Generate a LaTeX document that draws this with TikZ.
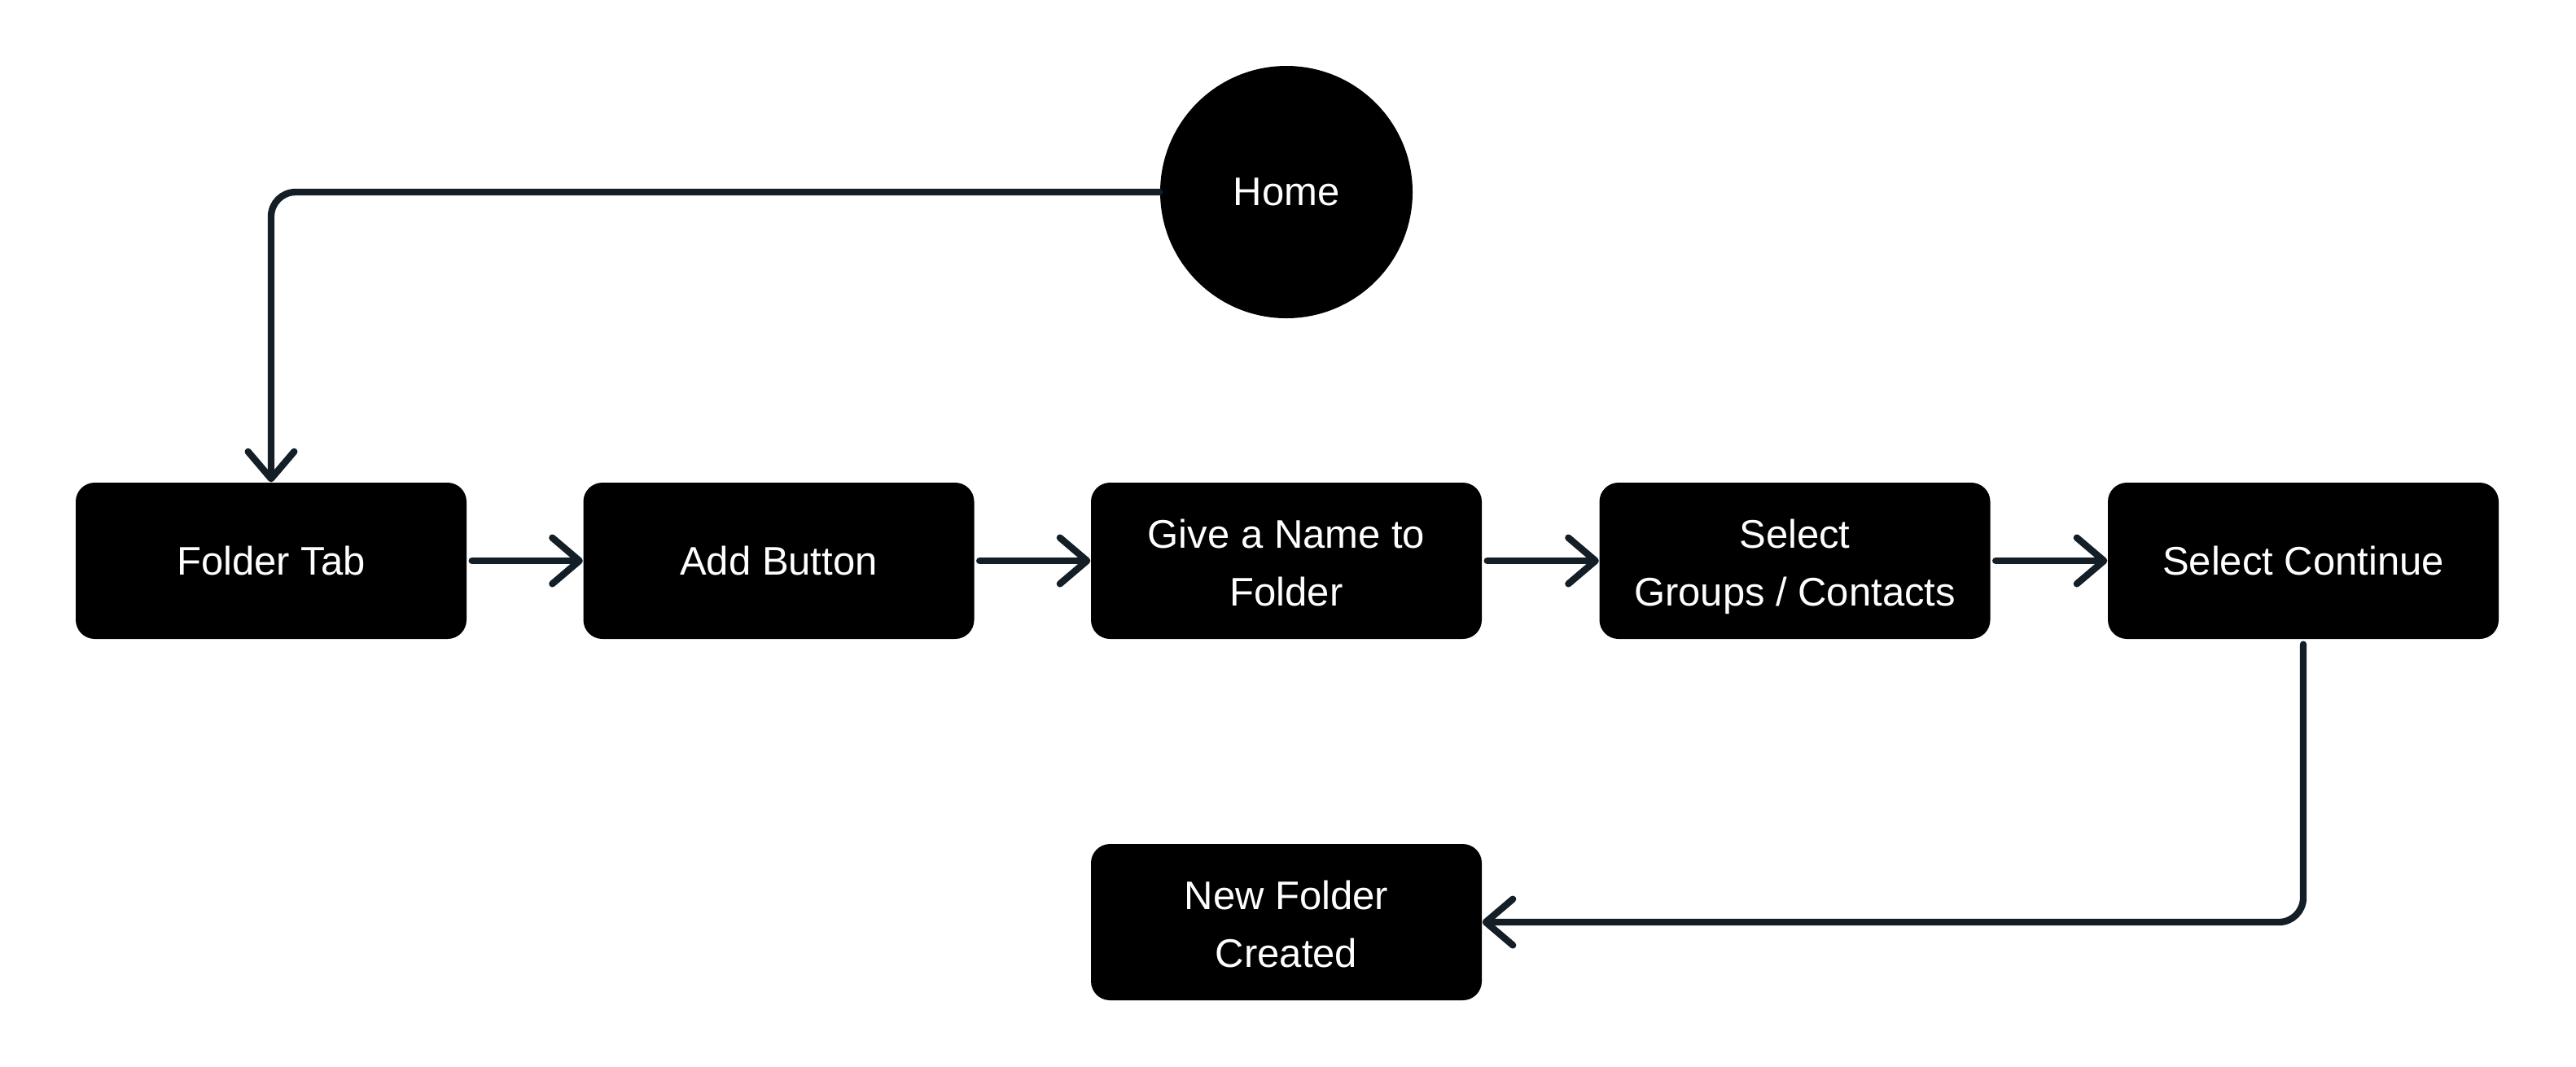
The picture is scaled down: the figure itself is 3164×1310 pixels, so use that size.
\documentclass[tikz,border=0pt]{standalone}
\usepackage{fontspec}
\setmainfont{Liberation Sans}
\usetikzlibrary{arrows.meta,positioning}
\definecolor{lineclr}{HTML}{131E26}
\newcommand\twolines[2]{\rule{0pt}{11.9pt}#1\\\raisebox{0pt}[\height][0pt]{#2}}
\begin{document}
\begin{tikzpicture}[x=0.3pt,y=-0.3pt,
  stepbox/.style={rectangle,rounded corners=7pt,fill=black,text=white,
    minimum width=144pt,minimum height=57.6pt,inner sep=0pt,align=center,
    font=\fontsize{14.7}{21.2}\selectfont},
  homecirc/.style={circle,fill=black,text=white,minimum size=93pt,inner sep=0pt,
    font=\fontsize{14.7}{21.2}\selectfont},
  flow/.style={draw=lineclr,line width=2.5pt,line cap=round,line join=round,
    -{Straight Barb[length=10pt,width=17pt,line cap=round,line join=round]}}
]
\useasboundingbox (0,0) rectangle (3164,1310);
\node[homecirc] (home) at (1580,236) {\raisebox{-0.6pt}{Home}};
\node[stepbox] (ft) at (333,689) {\raisebox{-0.6pt}{Folder Tab}};
\node[stepbox] (ab) at (956.5,689) {\raisebox{-0.6pt}{Add Button}};
\node[stepbox] (gn) at (1580,689) {\twolines{Give a Name to}{Folder}};
\node[stepbox] (sg) at (2204.5,689) {\twolines{Select}{Groups / Contacts}};
\node[stepbox] (sc) at (2829,689) {\raisebox{-0.6pt}{Select Continue}};
\node[stepbox] (nf) at (1580,1133) {\twolines{New Folder}{Created}};

\draw[flow,rounded corners=9pt] (home.west) -| (ft.north);
\draw[flow,shorten <=1.8pt] (ft.east) -- (ab.west);
\draw[flow,shorten <=1.8pt] (ab.east) -- (gn.west);
\draw[flow,shorten <=1.8pt] (gn.east) -- (sg.west);
\draw[flow,shorten <=1.8pt] (sg.east) -- (sc.west);
\draw[flow,rounded corners=9pt,shorten <=1.8pt] (sc.south) |- (nf.east);
\end{tikzpicture}
\end{document}
